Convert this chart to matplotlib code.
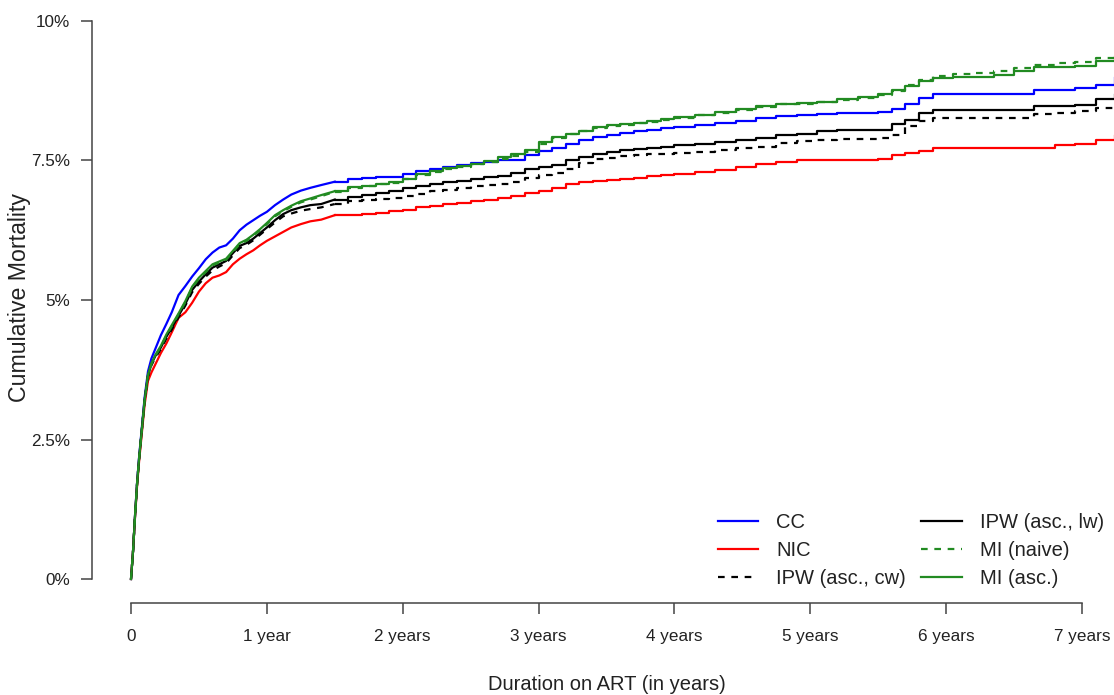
import matplotlib
matplotlib.use("Agg")
import matplotlib.pyplot as plt

# ---------- data (cumulative mortality in %) ----------
t_years = [0, 0.015, 0.03, 0.045, 0.06, 0.08, 0.10, 0.125, 0.15, 0.18,
           0.22, 0.26, 0.30, 0.35, 0.40, 0.45, 0.50, 0.55, 0.60, 0.65,
           0.70, 0.75, 0.80, 0.85, 0.90, 0.95, 1.00, 1.06, 1.12, 1.18,
           1.25, 1.32, 1.40, 1.50, 1.60, 1.70, 1.80, 1.90, 2.00, 2.10,
           2.20, 2.30, 2.40, 2.50, 2.60, 2.70, 2.80, 2.90, 3.00, 3.10,
           3.20, 3.30, 3.40, 3.50, 3.60, 3.70, 3.80, 3.90, 4.00, 4.15,
           4.30, 4.45, 4.60, 4.75, 4.90, 5.05, 5.20, 5.35, 5.50, 5.60,
           5.70, 5.80, 5.90, 6.05, 6.20, 6.35, 6.50, 6.65, 6.80, 6.95,
           7.10, 7.24]

cc = [0, 0.5, 1.15, 1.74, 2.2, 2.72, 3.25, 3.72, 3.95, 4.13,
      4.37, 4.57, 4.78, 5.09, 5.25, 5.42, 5.57, 5.73, 5.85, 5.94,
      5.98, 6.10, 6.25, 6.35, 6.43, 6.51, 6.58, 6.70, 6.80, 6.89,
      6.96, 7.01, 7.06, 7.12, 7.17, 7.19, 7.20, 7.21, 7.25, 7.31,
      7.35, 7.38, 7.42, 7.45, 7.48, 7.50, 7.51, 7.60, 7.67, 7.72,
      7.79, 7.86, 7.92, 7.95, 8.00, 8.03, 8.05, 8.08, 8.10, 8.14,
      8.17, 8.21, 8.27, 8.30, 8.32, 8.33, 8.35, 8.35, 8.37, 8.42,
      8.52, 8.62, 8.70, 8.70, 8.70, 8.70, 8.70, 8.76, 8.76, 8.80,
      8.86, 8.97]

nic = [0, 0.5, 1.12, 1.68, 2.12, 2.62, 3.12, 3.55, 3.70, 3.85,
       4.05, 4.22, 4.42, 4.68, 4.78, 4.95, 5.15, 5.30, 5.40, 5.44,
       5.50, 5.64, 5.74, 5.82, 5.89, 5.98, 6.06, 6.14, 6.22, 6.30,
       6.36, 6.41, 6.44, 6.52, 6.53, 6.55, 6.56, 6.59, 6.62, 6.66,
       6.69, 6.72, 6.74, 6.77, 6.79, 6.82, 6.86, 6.92, 6.96, 7.01,
       7.07, 7.11, 7.14, 7.15, 7.17, 7.19, 7.22, 7.24, 7.26, 7.30,
       7.33, 7.38, 7.43, 7.47, 7.50, 7.50, 7.51, 7.51, 7.52, 7.60,
       7.64, 7.67, 7.72, 7.72, 7.72, 7.72, 7.72, 7.73, 7.78, 7.80,
       7.86, 7.94]

ipw_cw = [0, 0.5, 1.15, 1.72, 2.17, 2.68, 3.2, 3.63, 3.83, 3.97,
          4.12, 4.31, 4.47, 4.69, 4.90, 5.14, 5.29, 5.42, 5.53, 5.60,
          5.66, 5.80, 5.93, 5.99, 6.07, 6.17, 6.27, 6.39, 6.50, 6.55,
          6.60, 6.63, 6.66, 6.72, 6.77, 6.80, 6.81, 6.83, 6.86, 6.90,
          6.95, 6.98, 7.01, 7.04, 7.06, 7.08, 7.12, 7.19, 7.24, 7.28,
          7.35, 7.46, 7.52, 7.55, 7.58, 7.60, 7.61, 7.62, 7.64, 7.66,
          7.69, 7.72, 7.75, 7.82, 7.85, 7.87, 7.88, 7.89, 7.90, 7.96,
          8.12, 8.20, 8.26, 8.26, 8.26, 8.26, 8.26, 8.33, 8.36, 8.38,
          8.44, 8.49]

ipw_lw = [0, 0.5, 1.15, 1.72, 2.17, 2.68, 3.2, 3.64, 3.85, 4.00,
          4.15, 4.34, 4.50, 4.72, 4.93, 5.18, 5.33, 5.46, 5.58, 5.64,
          5.70, 5.84, 5.97, 6.02, 6.10, 6.20, 6.30, 6.43, 6.54, 6.61,
          6.66, 6.70, 6.72, 6.80, 6.85, 6.88, 6.92, 6.96, 7.00, 7.04,
          7.08, 7.11, 7.13, 7.16, 7.20, 7.23, 7.28, 7.34, 7.38, 7.42,
          7.50, 7.56, 7.62, 7.66, 7.68, 7.70, 7.72, 7.75, 7.77, 7.80,
          7.83, 7.87, 7.90, 7.96, 7.98, 8.02, 8.05, 8.05, 8.05, 8.15,
          8.22, 8.35, 8.40, 8.41, 8.41, 8.41, 8.41, 8.47, 8.48, 8.49,
          8.60, 8.67]

mi_naive = [0, 0.5, 1.15, 1.72, 2.17, 2.68, 3.2, 3.65, 3.85, 4.00,
            4.16, 4.36, 4.53, 4.74, 4.96, 5.22, 5.38, 5.50, 5.62, 5.67,
            5.72, 5.86, 6.00, 6.06, 6.15, 6.25, 6.36, 6.50, 6.59, 6.67,
            6.75, 6.80, 6.86, 6.94, 7.01, 7.04, 7.07, 7.10, 7.16, 7.24,
            7.30, 7.35, 7.39, 7.43, 7.47, 7.52, 7.58, 7.66, 7.80, 7.90,
            7.97, 8.02, 8.09, 8.12, 8.14, 8.17, 8.19, 8.23, 8.27, 8.31,
            8.36, 8.41, 8.46, 8.51, 8.52, 8.54, 8.59, 8.62, 8.68, 8.75,
            8.85, 8.95, 9.02, 9.05, 9.07, 9.10, 9.16, 9.22, 9.24, 9.27,
            9.34, 9.43]

mi_asc = [0, 0.5, 1.15, 1.72, 2.17, 2.68, 3.2, 3.66, 3.86, 4.02,
          4.18, 4.38, 4.55, 4.76, 4.98, 5.24, 5.40, 5.52, 5.64, 5.69,
          5.74, 5.88, 6.02, 6.08, 6.17, 6.27, 6.38, 6.52, 6.61, 6.69,
          6.77, 6.82, 6.88, 6.95, 7.02, 7.05, 7.08, 7.11, 7.17, 7.25,
          7.31, 7.36, 7.40, 7.44, 7.49, 7.57, 7.62, 7.68, 7.84, 7.93,
          7.98, 8.03, 8.10, 8.13, 8.15, 8.18, 8.20, 8.24, 8.28, 8.32,
          8.37, 8.42, 8.47, 8.52, 8.53, 8.55, 8.60, 8.63, 8.69, 8.76,
          8.84, 8.92, 8.97, 8.99, 9.00, 9.04, 9.10, 9.18, 9.18, 9.20,
          9.28, 9.36]

x_ticks = [0, 1, 2, 3, 4, 5, 6, 7]
x_tick_labels = ["0", "1 year", "2 years", "3 years", "4 years",
                 "5 years", "6 years", "7 years"]
y_ticks = [0, 2.5, 5, 7.5, 10]
y_tick_labels = ["0%", "2.5%", "5%", "7.5%", "10%"]

# early part has many tiny steps -> draw it smooth, later part as steps
SMOOTH_UNTIL = 1.5

# ---------- plot ----------
plt.rcParams['font.family'] = ['Liberation Sans', 'DejaVu Sans']
txt = '#222222'
axc = '#444444'

W, H = 1114, 695
fig = plt.figure(figsize=(W / 100, H / 100), dpi=100)
# axes spans x: 0 -> px 131, y: 0% -> px 579, 10% -> px 21
ax = fig.add_axes([131 / W, (H - 579) / H, (W - 131) / W, 558 / H])

series = [
    (cc, 'blue', '-', 'CC'),
    (nic, 'red', '-', 'NIC'),
    (ipw_cw, 'black', '--', 'IPW (asc., cw)'),
    (ipw_lw, 'black', '-', 'IPW (asc., lw)'),
    (mi_naive, '#228B22', '--', 'MI (naive)'),
    (mi_asc, '#228B22', '-', 'MI (asc.)'),
]
k = t_years.index(SMOOTH_UNTIL)
handles = []
for ys, col, ls, lab in series:
    kw = dict(color=col, linestyle=ls, lw=1.6, clip_on=False)
    ln, = ax.plot(t_years[:k + 1], ys[:k + 1], label=lab, **kw)
    ln2, = ax.plot(t_years[k:], ys[k:], drawstyle='steps-post', **kw)
    if ls == '--':
        ln.set_dashes((3, 3))
        ln2.set_dashes((3, 3))
    handles.append(ln)

ax.set_xlim(0, (W - 131) / 135.86)
ax.set_ylim(0, 10)

for s in ['top', 'right']:
    ax.spines[s].set_visible(False)
ax.spines['left'].set_position(('outward', 28))
ax.spines['bottom'].set_position(('outward', 17))
ax.spines['left'].set_bounds(0, 10)
ax.spines['bottom'].set_bounds(0, 7)
for s in ['left', 'bottom']:
    ax.spines[s].set_color(axc)
    ax.spines[s].set_linewidth(1.1)

ax.set_xticks(x_ticks)
ax.set_xticklabels(x_tick_labels)
ax.set_yticks(y_ticks)
ax.set_yticklabels(y_tick_labels)
ax.tick_params(axis='both', length=8, width=1.1, color=axc,
               labelcolor=txt, labelsize=12.3)
ax.tick_params(axis='x', pad=11)
ax.tick_params(axis='y', pad=8)

fig.text(606.5 / W, 1 - 685 / H, "Duration on ART (in years)",
         ha='center', va='center', fontsize=14.5, color=txt)
fig.text(20 / W, 1 - 297 / H, "Cumulative Mortality", rotation=90,
         ha='center', va='center', fontsize=16.7, color=txt)

leg = ax.legend(handles=handles, ncol=2, frameon=False, fontsize=14.5,
                loc='upper left', bbox_to_anchor=((718 - 131) / 983, (579 - 513) / 558),
                borderpad=0, borderaxespad=0, handlelength=2.0,
                handletextpad=0.9, columnspacing=0.75, labelspacing=0.45)
for t in leg.get_texts():
    t.set_color(txt)

fig.savefig("out.png", dpi=100)
